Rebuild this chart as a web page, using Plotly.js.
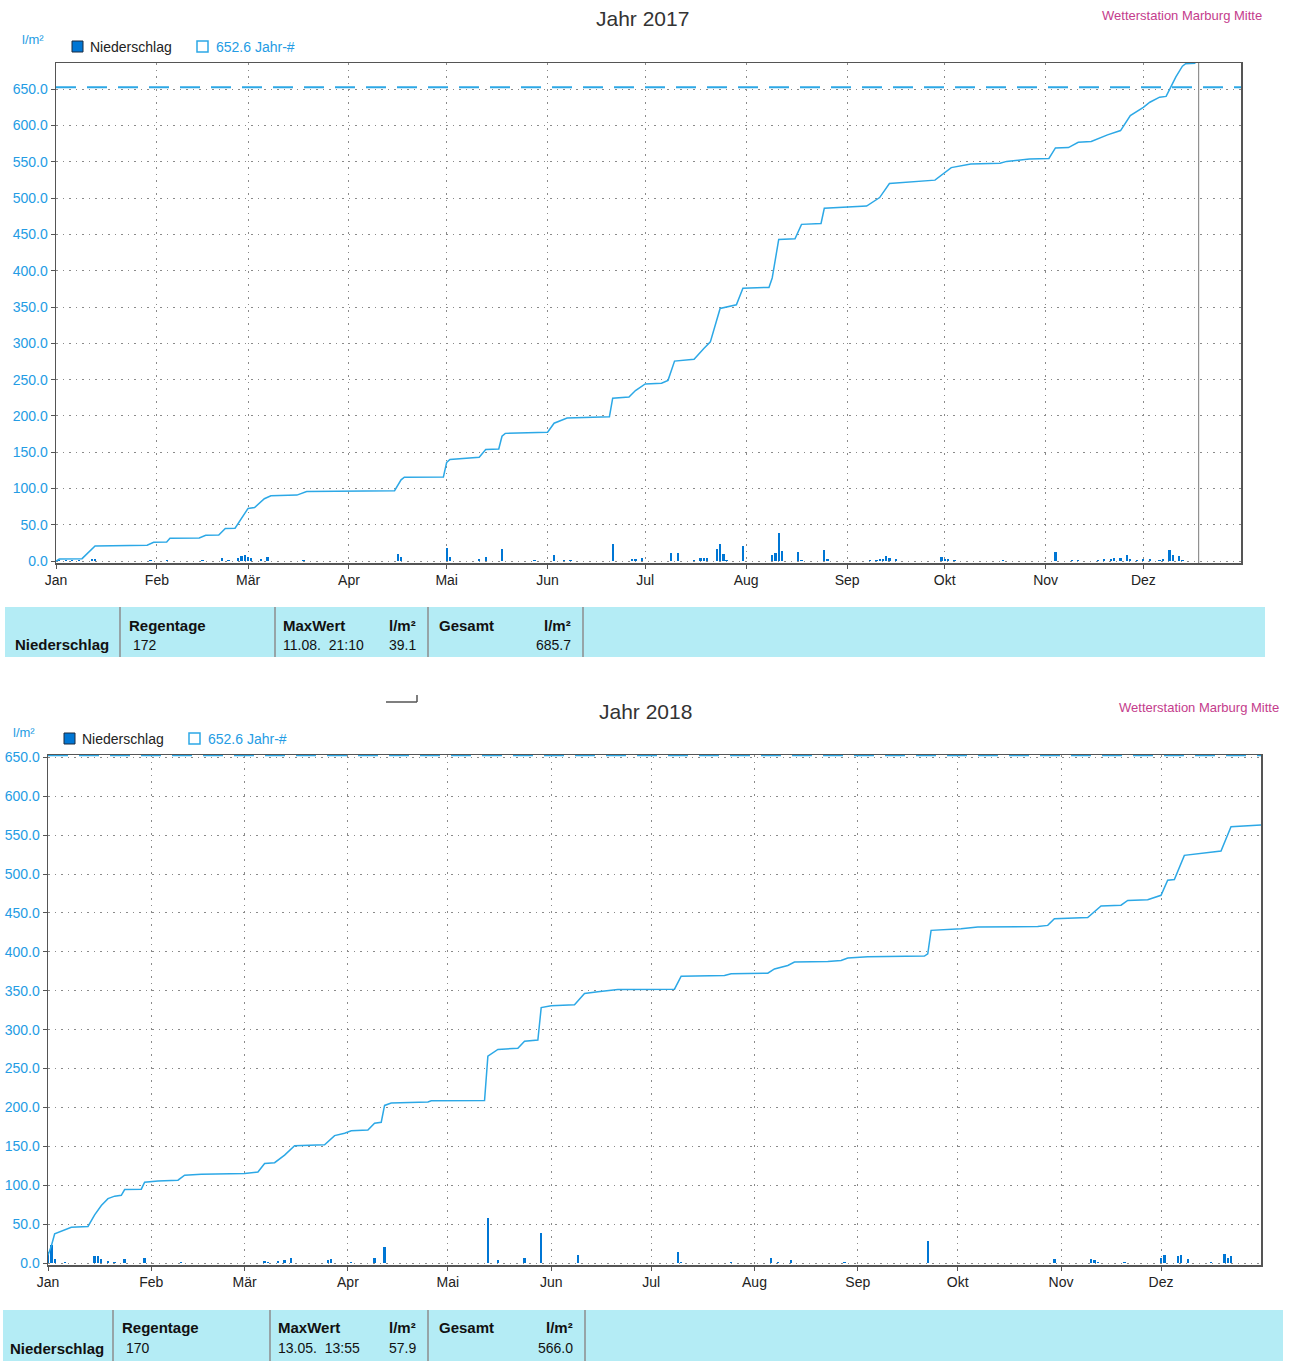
<!DOCTYPE html>
<html>
<head>
<meta charset="utf-8">
<script src="https://cdn.plot.ly/plotly-3.0.1.min.js"></script>
<style>html,body{margin:0;padding:0;background:#fff;}#chart{width:1292px;height:1361px;}</style>
</head>
<body>
<div id="chart"></div>
<script>
// ---------- DATA ----------
const monthLabels = ['Jan','Feb','Mär','Apr','Mai','Jun','Jul','Aug','Sep','Okt','Nov','Dez'];
const yearAverage = 652.6;

// 2017 cumulative precipitation (l/m²)
const cum2017Dates = ['2017-01-01','2017-01-02','2017-01-09','2017-01-11','2017-01-13','2017-01-29','2017-01-31','2017-02-04','2017-02-05','2017-02-14','2017-02-16','2017-02-20','2017-02-22','2017-02-25','2017-02-28','2017-03-01','2017-03-03','2017-03-06','2017-03-08','2017-03-16','2017-03-19','2017-04-15','2017-04-17','2017-04-18','2017-04-30','2017-05-01','2017-05-02','2017-05-11','2017-05-13','2017-05-17','2017-05-18','2017-05-19','2017-06-01','2017-06-03','2017-06-07','2017-06-20','2017-06-21','2017-06-26','2017-06-28','2017-07-01','2017-07-06','2017-07-08','2017-07-10','2017-07-16','2017-07-19','2017-07-21','2017-07-24','2017-07-29','2017-07-31','2017-08-08','2017-08-09','2017-08-11','2017-08-16','2017-08-18','2017-08-24','2017-08-25','2017-09-07','2017-09-11','2017-09-14','2017-09-28','2017-10-03','2017-10-09','2017-10-18','2017-10-20','2017-10-27','2017-11-02','2017-11-04','2017-11-08','2017-11-11','2017-11-15','2017-11-20','2017-11-24','2017-11-27','2017-12-01','2017-12-03','2017-12-06','2017-12-08','2017-12-11','2017-12-13','2017-12-14','2017-12-17'];
const cum2017Values = [0,3,3.5,12,21,22,26,26.5,31.5,32,35.6,36,45,45.5,65,72.7,74,86,90,91,96,97,112,115.7,116,136,140,143,153.7,154.5,172,176,177.5,190,197,199,224.5,226,235,244,245,249,275.5,278,293,302,348,353,376,377,390,443,444,463.8,465,486,489,500.7,520,524.7,542,547,548,550.5,553.8,554.5,569,569.5,576.8,578,587,593,613.7,625,632,639,640,667,681.6,685,685.7];

// 2017 daily precipitation bars
const bar2017Dates = ['2017-01-02','2017-01-04','2017-01-06','2017-01-08','2017-01-12','2017-01-13','2017-01-30','2017-02-04','2017-02-15','2017-02-21','2017-02-23','2017-02-26','2017-02-27','2017-02-28','2017-03-01','2017-03-02','2017-03-05','2017-03-07','2017-03-18','2017-04-16','2017-04-17','2017-05-01','2017-05-02','2017-05-11','2017-05-13','2017-05-18','2017-05-28','2017-06-03','2017-06-06','2017-06-08','2017-06-21','2017-06-27','2017-06-28','2017-06-30','2017-07-09','2017-07-11','2017-07-16','2017-07-18','2017-07-19','2017-07-20','2017-07-23','2017-07-24','2017-07-25','2017-07-26','2017-07-31','2017-08-09','2017-08-10','2017-08-11','2017-08-12','2017-08-17','2017-08-18','2017-08-25','2017-08-26','2017-09-08','2017-09-10','2017-09-11','2017-09-12','2017-09-13','2017-09-14','2017-09-16','2017-09-30','2017-10-01','2017-10-02','2017-10-04','2017-10-19','2017-11-04','2017-11-09','2017-11-11','2017-11-17','2017-11-19','2017-11-21','2017-11-22','2017-11-24','2017-11-26','2017-11-27','2017-11-29','2017-12-01','2017-12-03','2017-12-06','2017-12-07','2017-12-09','2017-12-10','2017-12-12','2017-12-13'];
const bar2017Values = [1,1,1,1,3,3.5,1,2,1,4,1.5,5,7,9,6,4,3,5.5,1,10.5,6,18,6,3,5.5,17,1.5,8,1.5,1.5,24,3,2.5,4,11.5,11.5,2,4.5,5,5,17,24,10,2,21,8,11.5,39.1,13.8,12.5,2,16,3,1.5,2,2.5,3,7,4.5,2.5,6,3.5,3.5,1.5,1,13,2.3,2,2.3,3,3.5,4.5,4.5,8,3.5,2.3,3.5,2.7,2.3,3.5,16,9,7,2.3];

// 2018 cumulative precipitation (l/m²)
const cum2018Dates = ['2018-01-01','2018-01-02','2018-01-03','2018-01-05','2018-01-08','2018-01-13','2018-01-15','2018-01-17','2018-01-19','2018-01-21','2018-01-23','2018-01-24','2018-01-29','2018-01-30','2018-02-03','2018-02-09','2018-02-11','2018-02-16','2018-02-26','2018-03-01','2018-03-05','2018-03-07','2018-03-10','2018-03-13','2018-03-16','2018-03-25','2018-03-28','2018-03-31','2018-04-02','2018-04-07','2018-04-09','2018-04-11','2018-04-12','2018-04-14','2018-04-25','2018-04-26','2018-05-12','2018-05-13','2018-05-16','2018-05-22','2018-05-24','2018-05-28','2018-05-29','2018-06-01','2018-06-08','2018-06-11','2018-06-15','2018-06-21','2018-07-08','2018-07-10','2018-07-23','2018-07-25','2018-08-05','2018-08-07','2018-08-11','2018-08-13','2018-08-23','2018-08-27','2018-08-29','2018-09-04','2018-09-21','2018-09-22','2018-09-23','2018-09-30','2018-10-02','2018-10-07','2018-10-25','2018-10-28','2018-10-30','2018-11-09','2018-11-13','2018-11-19','2018-11-21','2018-11-27','2018-12-01','2018-12-03','2018-12-05','2018-12-08','2018-12-12','2018-12-19','2018-12-22','2018-12-31'];
const cum2018Values = [10,22,37.5,40.5,46,47,62,74,82.8,86,87,94.4,95,104,105.6,106.5,113,114,114.5,115,117,128,129,138.8,150.9,152,163.8,166.8,170,171,179.7,181,202.6,205.6,207,208.6,209,266,274.6,276,285,286.6,328.4,330.6,332,346.5,348.7,351.5,352,368.7,369.5,371.7,372.5,378,382.5,386.8,387.5,389,392,393.6,394.5,397.5,427.6,428.5,429.7,431.9,432.5,434,442.6,444,459,460,466,467,472.7,492,493,524,526,529.5,560.8,563];

// 2018 daily precipitation bars
const bar2018Dates = ['2018-01-01','2018-01-02','2018-01-03','2018-01-06','2018-01-15','2018-01-16','2018-01-17','2018-01-19','2018-01-21','2018-01-24','2018-01-30','2018-02-10','2018-03-07','2018-03-08','2018-03-11','2018-03-13','2018-03-15','2018-03-26','2018-03-27','2018-04-02','2018-04-09','2018-04-12','2018-05-13','2018-05-16','2018-05-24','2018-05-29','2018-06-09','2018-07-09','2018-07-10','2018-07-25','2018-08-06','2018-08-08','2018-08-12','2018-08-28','2018-09-22','2018-10-30','2018-11-10','2018-11-11','2018-11-12','2018-11-20','2018-12-01','2018-12-02','2018-12-06','2018-12-07','2018-12-09','2018-12-16','2018-12-20','2018-12-21','2018-12-22'];
const bar2018Values = [14,23.7,5,2,8.6,9.5,5,2.5,2,5,6.5,1.5,3,1.5,3,3.5,6.5,4,5,1.5,6.5,20,57.9,4,6.5,38.4,10.3,13.8,2,1,6.4,2,4.3,2,28,5,5,3.5,2,1.5,6.4,10.7,8.6,10.7,5,1.5,11.6,6.4,8.6];

// summary tables
const summary2017 = {regentage:'172', maxWhen:'11.08.\u00a0\u00a021:10', maxVal:'39.1', gesamt:'685.7'};
const summary2018 = {regentage:'170', maxWhen:'13.05.\u00a0\u00a013:55', maxVal:'57.9', gesamt:'566.0'};
const currentDate2017 = '2017-12-18';

// ---------- LAYOUT ----------
const W = 1292, H = 1361;
const px = x => x / W;
const py = y => 1 - y / H;

const BAR_COLOR = 'rgb(0,118,212)';
const LINE_COLOR = 'rgb(44,168,230)';
const TICK_BLUE = 'rgb(36,156,228)';
const FONT = 'Liberation Sans, Arial, sans-serif';

function monthTicks(year){ return monthLabels.map((m,i)=> `${year}-${String(i+1).padStart(2,'0')}-01`); }

function xAxis(year, l, r, anchor){
  return {domain:[px(l),px(r)], type:'date', range:[`${year}-01-01`,`${year}-12-31`], anchor:anchor,
    tickmode:'array', tickvals:monthTicks(year), ticktext:monthLabels,
    tickfont:{family:FONT,size:14,color:'#222'}, ticks:'outside', ticklen:4, tickcolor:'#555',
    showgrid:true, gridcolor:'#8a8a8a', griddash:'1.5px,5px', gridwidth:1,
    showline:true, linecolor:'#555', linewidth:1.5, mirror:true, zeroline:false, fixedrange:true};
}
function yAxis(top, bottom, range, anchor){
  return {domain:[py(bottom),py(top)], range:range, anchor:anchor, tick0:0, dtick:50, tickformat:'.1f',
    tickfont:{family:FONT,size:14,color:TICK_BLUE}, ticks:'outside', ticklen:4, tickcolor:'#555',
    showgrid:true, gridcolor:'#8a8a8a', griddash:'1.5px,5px', gridwidth:1,
    showline:true, linecolor:'#555', linewidth:1.5, mirror:true, zeroline:false, fixedrange:true};
}

const traces = [
  {type:'bar', x:bar2017Dates, y:bar2017Values, xaxis:'x', yaxis:'y', width:86400000*0.7,
   marker:{color:BAR_COLOR, line:{width:0}}, name:'Niederschlag', showlegend:false},
  {type:'scatter', mode:'lines', x:cum2017Dates, y:cum2017Values, xaxis:'x', yaxis:'y',
   line:{color:LINE_COLOR, width:1.5}, showlegend:false},
  {type:'scatter', mode:'lines', x:['2017-01-01','2017-12-31'], y:[yearAverage,yearAverage], xaxis:'x', yaxis:'y',
   line:{color:LINE_COLOR, width:2, dash:'20px,11px'}, showlegend:false},
  {type:'bar', x:bar2018Dates, y:bar2018Values, xaxis:'x2', yaxis:'y2', width:86400000*0.7,
   marker:{color:BAR_COLOR, line:{width:0}}, showlegend:false},
  {type:'scatter', mode:'lines', x:cum2018Dates, y:cum2018Values, xaxis:'x2', yaxis:'y2',
   line:{color:LINE_COLOR, width:1.5}, showlegend:false},
  {type:'scatter', mode:'lines', x:['2018-01-01','2018-12-31'], y:[yearAverage,yearAverage], xaxis:'x2', yaxis:'y2',
   line:{color:LINE_COLOR, width:2, dash:'20px,11px'}, showlegend:false, cliponaxis:false}
];

const shapes = [];
const annotations = [];

function text(t, x, y, opts){
  opts = opts || {};
  annotations.push({xref:'paper', yref:'paper', x:px(x), y:py(y), text:t, showarrow:false,
    xanchor:opts.xanchor||'left', yanchor:'middle',
    font:{family:FONT, size:opts.size||14, color:opts.color||'#111', weight:opts.weight||'normal'}});
}
function rect(x0,y0,x1,y1,fill,line){
  shapes.push({type:'rect', xref:'paper', yref:'paper', x0:px(x0), x1:px(x1), y0:py(y1), y1:py(y0),
    fillcolor:fill, line:line||{width:0}, layer:'below'});
}
function vline(x,y0,y1,color,w){
  shapes.push({type:'line', xref:'paper', yref:'paper', x0:px(x), x1:px(x), y0:py(y0), y1:py(y1), line:{color:color,width:w||1}});
}

function header(title, titleX, titleY, stationRight, stationY, unitX, unitY, legX, legY){
  text(title, titleX, titleY, {xanchor:'center', size:21, color:'#333'});
  text('Wetterstation Marburg Mitte', stationRight, stationY, {xanchor:'right', size:13, color:'rgb(196,60,140)'});
  text('l/m²', unitX, unitY, {xanchor:'center', size:13, color:TICK_BLUE});
  rect(legX, legY-6, legX+11, legY+5, BAR_COLOR, {color:'#1a2a40', width:1});
  text('Niederschlag', legX+16, legY, {size:14, color:'#222'});
  shapes.push({type:'rect', xref:'paper', yref:'paper', x0:px(legX+125), x1:px(legX+136), y0:py(legY+5), y1:py(legY-6),
    fillcolor:'#fff', line:{color:LINE_COLOR,width:1.5}});
  text(yearAverage.toFixed(1)+' Jahr-#', legX+142, legY, {size:14, color:TICK_BLUE});
}

function table(s, x0, x1, y0, y1, seps, rowH, rowD){
  rect(x0, y0, x1, y1, 'rgb(180,236,245)');
  seps.forEach(sx => vline(sx, y0, y1, '#8c8c8c', 1.5));
  const b = {weight:'bold', size:15, color:'#111'};
  text('Niederschlag', x0+ (seps[0]-x0-100)/2 , rowD, b);
  text('Regentage', seps[0]+7, rowH, b);
  text(s.regentage, seps[0]+11, rowD, {size:14, color:'#111'});
  text('MaxWert', seps[1]+6, rowH, b);
  text('l/m²', seps[2]-10, rowH, Object.assign({xanchor:'right'}, b));
  text(s.maxWhen, seps[1]+6, rowD, {size:14, color:'#111'});
  text(s.maxVal, seps[2]-10, rowD, {xanchor:'right', size:14, color:'#111'});
  text('Gesamt', seps[2]+9, rowH, b);
  text('l/m²', seps[3]-10, rowH, Object.assign({xanchor:'right'}, b));
  text(s.gesamt, seps[3]-10, rowD, {xanchor:'right', size:14, color:'#111'});
}

// Chart 1 decorations
header('Jahr 2017', 642, 19, 1264, 16, 33, 40, 72, 47);
table(summary2017, 5, 1265, 607, 657, [120, 275, 428, 583], 625, 645);
shapes.push({type:'line', xref:'x', yref:'paper', x0:currentDate2017, x1:currentDate2017, y0:py(563), y1:py(63), line:{color:'#7a7a7a', width:1}});

// Chart 2 decorations
header('Jahr 2018', 645, 711, 1281, 707, 24, 732, 64, 739);
table(summary2018, 3, 1283, 1310, 1361, [113, 270, 428, 585], 1327, 1348);

// small scan artefact box edge
shapes.push({type:'line', xref:'paper', yref:'paper', x0:px(386), x1:px(417), y0:py(702), y1:py(702), line:{color:'#555', width:1.5}});
shapes.push({type:'line', xref:'paper', yref:'paper', x0:px(417), x1:px(417), y0:py(695), y1:py(702), line:{color:'#555', width:1.5}});

const layout = {
  width:W, height:H, margin:{l:0,r:0,t:0,b:0}, paper_bgcolor:'#fff', plot_bgcolor:'#fff',
  showlegend:false, bargap:0,
  xaxis: xAxis(2017, 56, 1241, 'y'),
  yaxis: yAxis(63, 563, [-2.5, 686], 'x'),
  xaxis2: xAxis(2018, 48, 1261, 'y2'),
  yaxis2: yAxis(755, 1265, [-2.5, 653], 'x2'),
  shapes: shapes, annotations: annotations,
  font:{family:FONT}
};

Plotly.newPlot('chart', traces, layout, {displayModeBar:false, staticPlot:true});
</script>
</body>
</html>
